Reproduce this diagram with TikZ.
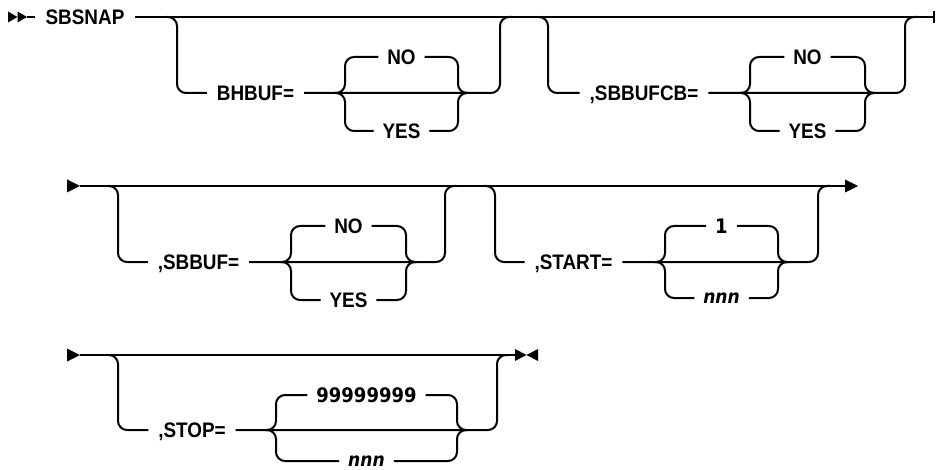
\documentclass[tikz,border=0pt]{standalone}
\usepackage{fontspec}
\setmainfont[FakeStretch=0.9]{Liberation Sans}
\newfontfamily\numfont[FakeStretch=0.9]{DejaVu Sans}
\newcommand\bracelines[5]{%
  \draw[rc] ({#3-10},#5) -- (#3,#5) |- (#1.west);
  \draw[rc] ({#3-10},#5) -- (#3,#5) |- (#2.west);
  \draw[rc] (#1.east) -| (#4,#5) -- ({#4+10},#5);
  \draw[rc] (#2.east) -| (#4,#5) -- ({#4+10},#5);
}
\begin{document}
\begin{tikzpicture}[x=1pt,y=-1pt,line width=2pt,
  lbl/.style={font=\fontsize{21}{24}\selectfont\bfseries, inner xsep=8pt, inner ysep=0pt,
              text height=15pt, text depth=0pt, anchor=center},
  kw/.style={lbl, inner xsep=9pt},
  num/.style={lbl, font=\fontsize{20}{24}\selectfont\numfont\bfseries, text height=14.6pt},
  ital/.style={lbl, font=\fontsize{19}{22}\selectfont\numfont\bfseries\itshape, text height=10.6pt},
  rc/.style={rounded corners=9pt},
  tipfill/.style={fill=black, draw=none}]
\useasboundingbox (0,0) rectangle (936,470);

% ---------- row 1 ----------
\coordinate (r1a) at (27,17);
\coordinate (r1end) at (934,17);
\fill[tipfill] (8,11.5) -- (17.5,17) -- (8,22.5) -- cycle;
\fill[tipfill] (17.5,11.5) -- (27,17) -- (17.5,22.5) -- cycle;
\node[kw, inner xsep=10pt] (sbsnap) at (85,17) {SBSNAP};
\draw (r1a) -- (sbsnap.west);
\draw (sbsnap.east) -- (r1end);
\draw ([yshift=6pt]r1end) -- ([yshift=-6pt]r1end);

% group 1
\node[kw] (bhbuf) at (255.5,93) {BHBUF=};
\node[lbl] (no1) at (401.5,57) {NO};
\node[lbl] (yes1) at (401.5,131) {YES};
\coordinate (g1d) at (167,17);
\coordinate (g1u) at (512,17);
\draw[rc] (g1d) -- (177,17) |- (bhbuf.west);
\draw[rc] (bhbuf.east) -- (500,93) |- (g1u);
\bracelines{no1}{yes1}{345}{458}{93}

% group 2
\node[kw] (sbbufcb) at (644,93) {,SBBUFCB=};
\node[lbl] (no2) at (807.5,57) {NO};
\node[lbl] (yes2) at (807.5,131) {YES};
\coordinate (g2d) at (538,17);
\coordinate (g2u) at (917,17);
\draw[rc] (g2d) -- (548,17) |- (sbbufcb.west);
\draw[rc] (sbbufcb.east) -- (905,93) |- (g2u);
\bracelines{no2}{yes2}{750}{865}{93}

% ---------- row 2 ----------
\coordinate (r2a) at (80,186);
\coordinate (r2b) at (845,186);
\fill[tipfill] (67,179.5) -- (r2a) -- (67,192.5) -- cycle;
\draw (r2a) -- (r2b);
\fill[tipfill] (845,179.5) -- (858,186) -- (845,192.5) -- cycle;

% group 3
\node[kw] (sbbuf) at (198.5,262) {,SBBUF=};
\node[lbl] (no3) at (348.5,226) {NO};
\node[lbl] (yes3) at (348.5,300) {YES};
\coordinate (g3d) at (108,186);
\coordinate (g3u) at (457,186);
\draw[rc] (g3d) -- (118,186) |- (sbbuf.west);
\draw[rc] (sbbuf.east) -- (445,262) |- (g3u);
\bracelines{no3}{yes3}{291}{406}{262}

% group 4
\node[kw] (startk) at (573.5,262) {,START=};
\node[num] (one4) at (721.5,226) {1};
\node[ital] (nnn4) at (721.5,298) {nnn};
\coordinate (g4d) at (485,186);
\coordinate (g4u) at (830,186);
\draw[rc] (g4d) -- (495,186) |- (startk.west);
\draw[rc] (startk.east) -- (818,262) |- (g4u);
\bracelines{one4}{nnn4}{665}{778}{262}

% ---------- row 3 ----------
\coordinate (r3a) at (80,355);
\coordinate (r3b) at (515,355);
\fill[tipfill] (67,348.5) -- (r3a) -- (67,361.5) -- cycle;
\draw (r3a) -- (r3b);
\fill[tipfill] (515,349) -- (526.5,355) -- (515,361) -- cycle;
\fill[tipfill] (538,349) -- (526.5,355) -- (538,361) -- cycle;

% group 5
\node[kw] (stop) at (192,430) {,STOP=};
\node[num] (nines) at (366.5,395) {99999999};
\node[ital] (nnn5) at (366.5,461) {nnn};
\coordinate (g5d) at (108,355);
\coordinate (g5u) at (509,355);
\draw[rc] (g5d) -- (118,355) |- (stop.west);
\draw[rc] (stop.east) -- (497,430) |- (g5u);
\bracelines{nines}{nnn5}{276}{457}{430}
\end{tikzpicture}
\end{document}
